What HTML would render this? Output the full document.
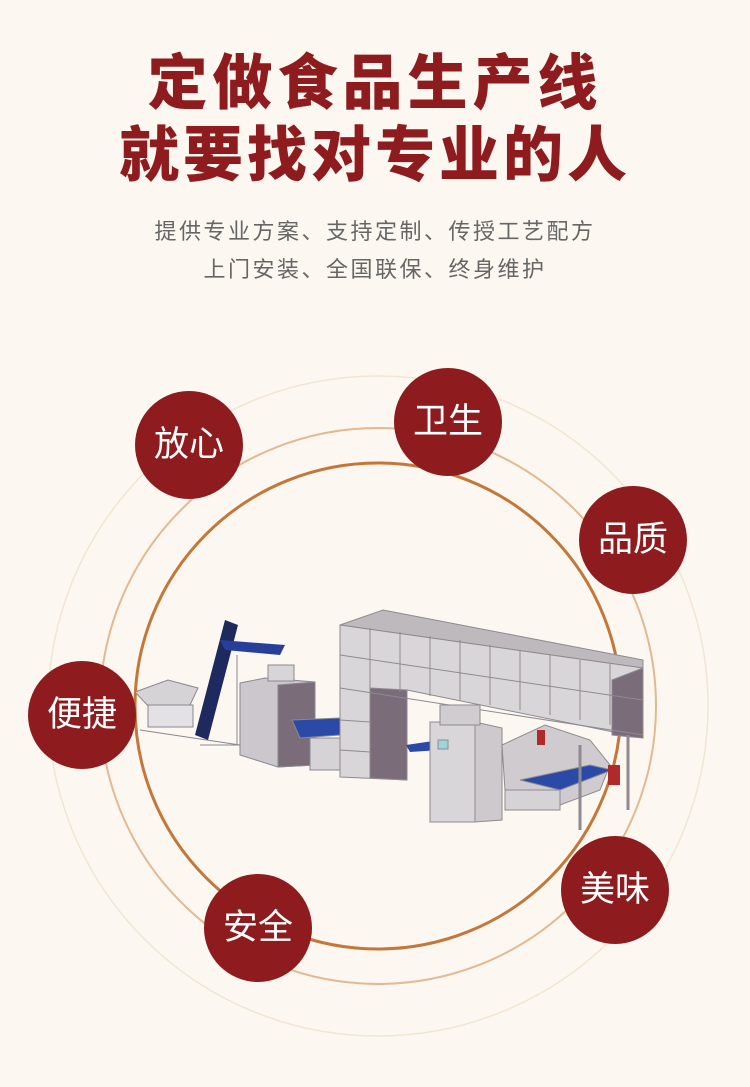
<!DOCTYPE html>
<html><head><meta charset="utf-8"><style>
html,body{margin:0;padding:0;}
body{width:750px;height:1087px;background:#fcf7f0;position:relative;overflow:hidden;font-family:"Liberation Sans","Noto Sans CJK SC",sans-serif;}
.t{position:absolute;left:0;width:750px;text-align:center;color:#8e1c1e;font-weight:900;font-size:60px;line-height:60px;white-space:nowrap;}
.s{position:absolute;left:0;width:750px;text-align:center;color:#666;font-size:22px;line-height:24px;letter-spacing:2.5px;white-space:nowrap;}
.c{position:absolute;width:108px;height:108px;border-radius:50%;background:#8e1c1e;color:#fff;font-size:35px;line-height:108px;text-align:center;}
</style></head><body>
<div class="t" style="top:54px;letter-spacing:5px;">定做食品生产线</div>
<div class="t" style="top:126px;letter-spacing:4px;">就要找对专业的人</div>
<div class="s" style="top:220px;">提供专业方案、支持定制、传授工艺配方</div>
<div class="s" style="top:258px;">上门安装、全国联保、终身维护</div>
<svg width="750" height="1087" style="position:absolute;left:0;top:0">
<circle cx="378" cy="706" r="330" fill="none" stroke="#f1e6d2" stroke-width="1.5"/>
<circle cx="378" cy="706" r="278" fill="none" stroke="#e2b990" stroke-width="2"/>
<circle cx="378" cy="706" r="243" fill="none" stroke="#c3783a" stroke-width="3"/>
<g stroke="#8a8890" stroke-width="1" fill="#d6d3d6">
<polygon points="135,692 168,680 198,688 190,705 150,708"/>
<rect x="148" y="705" width="45" height="22" fill="#e3e1e3"/>
<line x1="140" y1="730" x2="240" y2="745"/>
<line x1="200" y1="745" x2="240" y2="745"/>
<line x1="237" y1="655" x2="237" y2="745"/>
</g>
<polygon points="195,735 225,620 238,625 208,740" fill="#1e2a5e"/>
<polygon points="220,640 285,645 280,655 225,650" fill="#283f9a"/>
<g stroke="#8a8890" stroke-width="1">
<polygon points="240,683 265,678 315,682 315,765 278,767 240,755" fill="#cbc7cc"/>
<polygon points="278,685 315,682 315,765 278,767" fill="#7b6c79"/>
<rect x="268" y="665" width="26" height="16" fill="#d8d5d8"/>
<polygon points="292,720 340,718 340,735 300,738" fill="#2b4aa8"/>
<rect x="310" y="738" width="35" height="32" fill="#d6d3d6"/>
</g>
<g stroke="#8e8a90" stroke-width="1">
<polygon points="340,625 383,610 643,660 643,668" fill="#bdb9bd"/>
<polygon points="340,625 643,668 643,738 407,690 407,780 340,777" fill="#d9d6d9"/>
<polygon points="370,688 407,690 407,780 370,778" fill="#7b6c79"/>
<polygon points="612,680 643,668 643,738 612,735" fill="#7b6c79"/>
<line x1="340" y1="688" x2="643" y2="735"/>
<line x1="340" y1="655" x2="643" y2="700"/>
<line x1="370" y1="628" x2="370" y2="690"/><line x1="400" y1="632" x2="400" y2="692"/>
<line x1="430" y1="636" x2="430" y2="696"/><line x1="460" y1="640" x2="460" y2="700"/>
<line x1="490" y1="645" x2="490" y2="705"/><line x1="520" y1="650" x2="520" y2="710"/>
<line x1="550" y1="655" x2="550" y2="715"/><line x1="580" y1="660" x2="580" y2="720"/>
<line x1="610" y1="664" x2="610" y2="725"/>
<line x1="340" y1="720" x2="370" y2="722"/><line x1="340" y1="750" x2="370" y2="752"/>
</g>
<polygon points="406,745 440,740 440,750 410,752" fill="#2b4aa8"/>
<g stroke="#8e8a90" stroke-width="1">
<rect x="430" y="722" width="45" height="100" fill="#d9d6d9"/>
<polygon points="475,722 502,728 502,820 475,822" fill="#cdc9cd"/>
<rect x="440" y="705" width="40" height="20" fill="#d0cdd0"/>
<rect x="438" y="740" width="10" height="9" fill="#9fd4dc"/>
</g>
<g stroke="#8e8a90" stroke-width="1">
<polygon points="502,745 545,725 590,740 610,765 600,790 560,805 505,790" fill="#cfcbcf"/>
<polygon points="520,780 590,765 612,770 560,790" fill="#2b4aa8"/>
<rect x="505" y="790" width="55" height="20" fill="#d6d3d6"/>
<line x1="580" y1="745" x2="580" y2="830" stroke-width="3"/>
<line x1="628" y1="735" x2="628" y2="810" stroke-width="3"/>
</g>
<rect x="608" y="765" width="12" height="20" fill="#b02a2a"/>
<rect x="537" y="730" width="8" height="15" fill="#b02a2a"/>
</svg>
<div class="c" style="left:135px;top:391px;">放心</div>
<div class="c" style="left:394px;top:368px;">卫生</div>
<div class="c" style="left:579px;top:486px;">品质</div>
<div class="c" style="left:28px;top:661px;">便捷</div>
<div class="c" style="left:204px;top:874px;">安全</div>
<div class="c" style="left:561px;top:836px;">美味</div>
</body></html>
